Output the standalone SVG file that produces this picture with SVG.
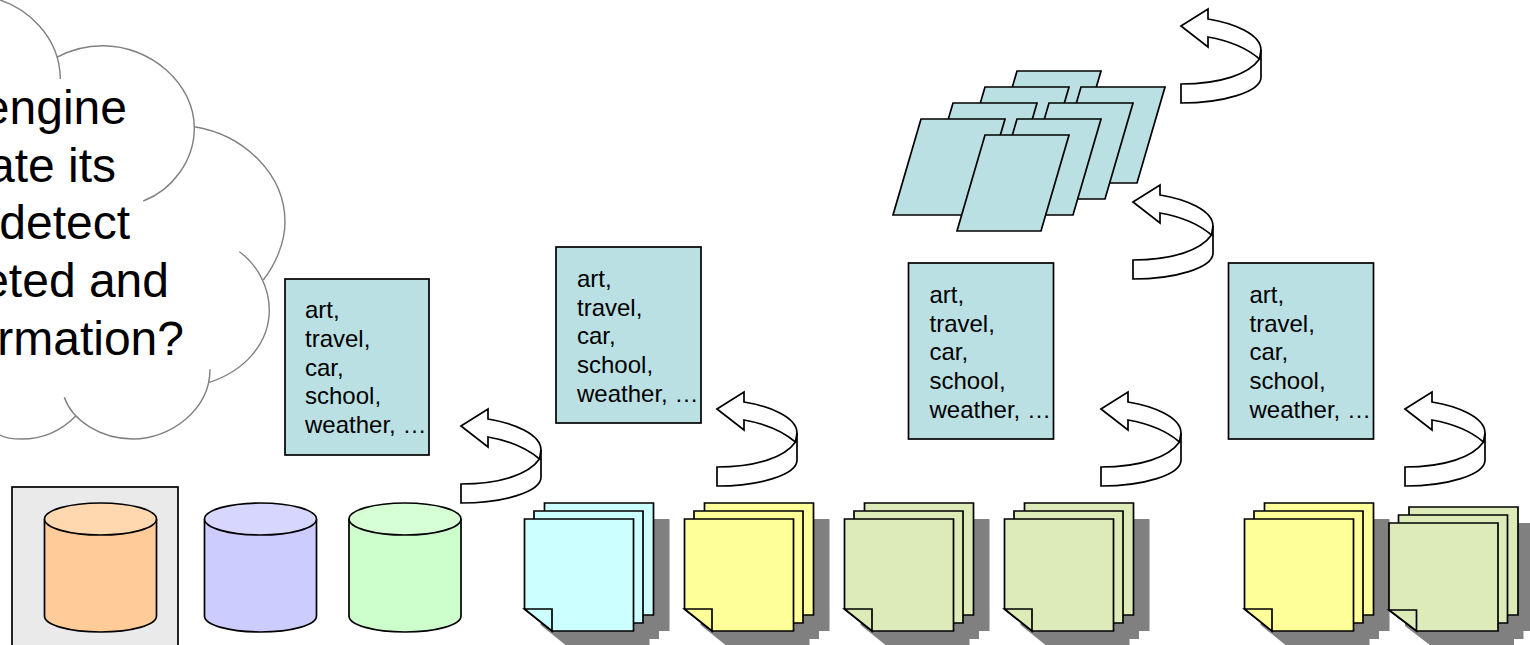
<svg xmlns="http://www.w3.org/2000/svg" xmlns:xlink="http://www.w3.org/1999/xlink" width="1530" height="645" viewBox="0 0 1530 645">
<style>
text{font-family:"Liberation Sans",Arial,sans-serif;fill:#000}
.big{font-size:48px;text-anchor:end}
.lab{font-size:24px}
.s{stroke:#000;stroke-width:1.7;stroke-linejoin:miter}
.cloud{fill:none;stroke:#808080;stroke-width:1.4}
.teal{fill:#bae0e3}
.arrow{fill:#fff;stroke:#000;stroke-width:1.7;stroke-linejoin:miter}
.sh{fill:#808080}
</style>
<defs>
<g id="ar">
<path class="arrow" d="M0,0L27,-17V-7C52,-3 80,8 80,24V51C80,66 42,77 0,77V58C40,58 68,48 78.500,33C68,24 50,15 27,11V21Z"/>
<path class="arrow" d="M78.500,33L80,24" fill="none"/>
</g>
<g id="cyl">
<path class="s" d="M0,17V113C0,122 25,129 56,129S112,122 112,113V17Z"/>
</g>
<path id="para" d="M0,0H84L56,96H-28Z"/>
<path id="page" d="M0,0H109V112H27.500L0,90Z"/>
<g id="note">
<use xlink:href="#page" href="#page" class="sh" x="36" y="0"/>
<use xlink:href="#page" href="#page" class="sh" x="25.500" y="8"/>
<use xlink:href="#page" href="#page" class="sh" x="16" y="16"/>
<use xlink:href="#page" href="#page" class="s" x="20" y="-16"/>
<use xlink:href="#page" href="#page" class="s" x="9.500" y="-8"/>
<use xlink:href="#page" href="#page" class="s"/>
<path class="s" d="M0,90H27.500V112Z"/>
</g>
<path id="pageb" d="M0,0H109V108H27.500L0,87Z"/>
</defs>
<g id="cloud">
<path class="cloud" d="M0,0C25,8 60,35 60.300,79"/>
<path class="cloud" d="M56.700,57.300C72,49 88,45.700 103,45.700C150,45.700 194.300,83 194.300,128C194.300,161 172,190 143.300,201"/>
<path class="cloud" d="M194.300,126.700C245,135 285,175 285,222C285,243 275,265 263.300,280"/>
<path class="cloud" d="M239.300,251.700C258,265 269.300,288 269.300,310C269.300,343 245,371 208.300,382.700"/>
<path class="cloud" d="M210,369.300C210,410 170,439 133,439C100,439 72,420 64.300,397.300"/>
<path class="cloud" d="M76,415.700C60,432 40,439 21.700,439C13,439 5,438 0,435"/>
<text class="big" x="127" y="124">engine</text>
<text class="big" x="116" y="181.500">ate its</text>
<text class="big" x="130" y="239">detect</text>
<text class="big" x="169" y="297">eted and</text>
<text class="big" x="184" y="355">rmation?</text>
</g>
<g id="box1"><rect class="s teal" x="285" y="279" width="144" height="176"/><text class="lab"><tspan x="305" y="318.300">art,</tspan><tspan x="305" y="347">travel,</tspan><tspan x="305" y="375.600">car,</tspan><tspan x="305" y="404.200">school,</tspan><tspan x="305" y="432.800">weather, …</tspan></text></g>
<g id="box2"><rect class="s teal" x="556" y="247" width="145" height="176"/><text class="lab"><tspan x="577" y="287">art,</tspan><tspan x="577" y="315.700">travel,</tspan><tspan x="577" y="344.300">car,</tspan><tspan x="577" y="372.900">school,</tspan><tspan x="577" y="401.500">weather, …</tspan></text></g>
<g id="box3"><rect class="s teal" x="908.500" y="263" width="145" height="176"/><text class="lab"><tspan x="929.500" y="303">art,</tspan><tspan x="929.500" y="331.700">travel,</tspan><tspan x="929.500" y="360.300">car,</tspan><tspan x="929.500" y="388.900">school,</tspan><tspan x="929.500" y="417.500">weather, …</tspan></text></g>
<g id="box4"><rect class="s teal" x="1228.500" y="263" width="145" height="176"/><text class="lab"><tspan x="1249.500" y="303">art,</tspan><tspan x="1249.500" y="331.700">travel,</tspan><tspan x="1249.500" y="360.300">car,</tspan><tspan x="1249.500" y="388.900">school,</tspan><tspan x="1249.500" y="417.500">weather, …</tspan></text></g>
<g id="stack">
<use xlink:href="#para" href="#para" class="s teal" x="1017" y="71"/>
<use xlink:href="#para" href="#para" class="s teal" x="1081" y="87"/>
<use xlink:href="#para" href="#para" class="s teal" x="985" y="87"/>
<use xlink:href="#para" href="#para" class="s teal" x="1049" y="103"/>
<use xlink:href="#para" href="#para" class="s teal" x="953" y="103"/>
<use xlink:href="#para" href="#para" class="s teal" x="1017" y="119"/>
<use xlink:href="#para" href="#para" class="s teal" x="921" y="119"/>
<use xlink:href="#para" href="#para" class="s teal" x="985" y="135"/>
</g>
<g id="connectors">
<use xlink:href="#ar" href="#ar" x="461" y="426"/>
<use xlink:href="#ar" href="#ar" x="717" y="409"/>
<use xlink:href="#ar" href="#ar" x="1101" y="409"/>
<use xlink:href="#ar" href="#ar" x="1405" y="409"/>
<use xlink:href="#ar" href="#ar" x="1133" y="202"/>
<use xlink:href="#ar" href="#ar" x="1181" y="26"/>
</g>
<g id="db1"><rect class="s" x="12" y="487" width="166" height="170" fill="#eaeaea"/><use xlink:href="#cyl" href="#cyl" x="44.500" y="503" fill="#ffcc99"/><ellipse class="s" cx="100.500" cy="519" rx="56" ry="16" fill="#ffd8b0"/></g>
<g id="db2"><use xlink:href="#cyl" href="#cyl" x="204.500" y="503" fill="#ccccff"/><ellipse class="s" cx="260.500" cy="519" rx="56" ry="16" fill="#d6d6ff"/></g>
<g id="db3"><use xlink:href="#cyl" href="#cyl" x="349" y="503" fill="#ccffcc"/><ellipse class="s" cx="405" cy="519" rx="56" ry="16" fill="#d6ffd6"/></g>
<g id="note1" fill="#ccffff"><use xlink:href="#note" href="#note" x="524.500" y="519"/></g>
<g id="note2" fill="#ffff99"><use xlink:href="#note" href="#note" x="684.500" y="519"/></g>
<g id="note3" fill="#dcebb8"><use xlink:href="#note" href="#note" x="844.500" y="519"/></g>
<g id="note4" fill="#dcebb8"><use xlink:href="#note" href="#note" x="1004.500" y="519"/></g>
<g id="note5" fill="#ffff99"><use xlink:href="#note" href="#note" x="1244.500" y="519"/></g>
<g id="note6" fill="#dcebb8" transform="translate(1389,523)">
<use xlink:href="#pageb" href="#pageb" class="sh" x="36" y="0"/>
<use xlink:href="#pageb" href="#pageb" class="sh" x="25.500" y="8"/>
<use xlink:href="#pageb" href="#pageb" class="sh" x="16" y="16"/>
<use xlink:href="#pageb" href="#pageb" class="s" x="20" y="-16"/>
<use xlink:href="#pageb" href="#pageb" class="s" x="9.500" y="-8"/>
<use xlink:href="#pageb" href="#pageb" class="s"/>
<path class="s" d="M0,87H27.500V108Z"/>
</g>
</svg>
